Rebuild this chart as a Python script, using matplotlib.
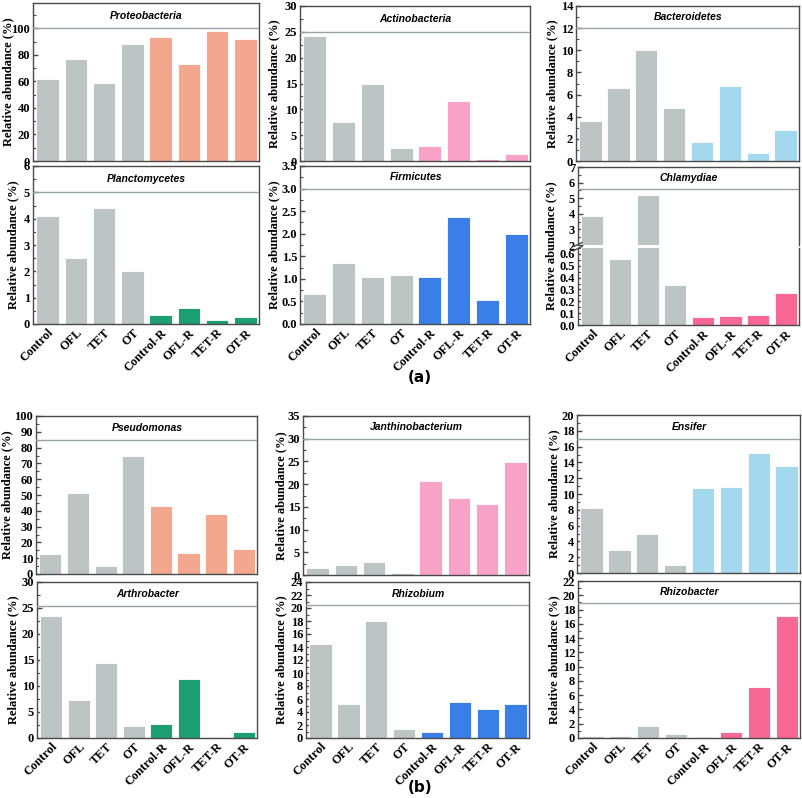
import matplotlib
matplotlib.use('Agg')
import matplotlib.pyplot as plt
from matplotlib.ticker import MultipleLocator, AutoMinorLocator

W, H = 803, 798
fig = plt.figure(figsize=(W / 100, H / 100), dpi=100)

categories = ['Control', 'OFL', 'TET', 'OT', 'Control-R', 'OFL-R', 'TET-R', 'OT-R']

# panel (a) - phyla
proteobacteria = [62.0, 76.7, 58.8, 87.8, 93.2, 73.4, 97.6, 92.2]
actinobacteria = [24.2, 7.6, 15.0, 2.6, 3.0, 11.6, 0.3, 1.3]
bacteroidetes = [3.65, 6.6, 10.05, 4.83, 1.68, 6.76, 0.72, 2.82]
planctomycetes = [4.1, 2.51, 4.41, 2.0, 0.34, 0.6, 0.14, 0.28]
firmicutes = [0.66, 1.35, 1.04, 1.08, 1.05, 2.36, 0.54, 2.0]
chlamydiae = [3.88, 0.56, 5.18, 0.34, 0.065, 0.075, 0.085, 0.27]

# panel (b) - genera
pseudomonas = [12.8, 51.3, 4.9, 74.8, 42.9, 13.4, 38.2, 15.8]
janthinobacterium = [1.6, 2.2, 2.8, 0.45, 20.8, 16.9, 15.7, 24.8]
ensifer = [8.27, 2.97, 4.93, 0.98, 10.7, 10.86, 15.24, 13.56]
arthrobacter = [23.5, 7.35, 14.4, 2.4, 2.75, 11.35, 0.26, 1.1]
rhizobium = [14.4, 5.3, 18.0, 1.4, 0.85, 5.5, 4.5, 5.2]
rhizobacter = [0.33, 0.33, 1.65, 0.6, 0.19, 0.88, 7.2, 17.1]

GRAY = '#BDC4C4'
SALMON = '#F4A78F'
PINK = '#F9A2C8'
LBLUE = '#A3D8EF'
GREEN = '#1E9E73'
BLUE = '#3A7FE8'
HPINK = '#F86894'

SERIF = 'Liberation Serif'
SANS = 'Liberation Sans'
SPINE = '#4a4a4a'
LINEC = '#9aa3a3'
FS = 9


def rect(l, t, r, b):
    return [l / W, 1 - b / H, (r - l) / W, (b - t) / H]


def ylabel_at(xc, yc):
    fig.text(xc / W, 1 - yc / H, 'Relative abundance (%)', rotation=90,
             ha='center', va='center', fontfamily=SERIF, fontweight='bold',
             fontsize=FS)


def draw_bars(ax, values, accent):
    colors = [GRAY] * 4 + [accent] * 4
    ax.bar(range(len(categories)), values, width=0.8, color=colors,
           edgecolor='white', linewidth=0.6, zorder=2)
    ax.set_xlim(-0.52, 7.48)


def style(ax, ylim, major, show_x):
    ax.set_ylim(*ylim)
    ax.yaxis.set_major_locator(MultipleLocator(major))
    ax.yaxis.set_minor_locator(AutoMinorLocator(2))
    for s in ax.spines.values():
        s.set_color(SPINE)
        s.set_linewidth(1.0)
    ax.tick_params(axis='y', which='major', direction='in', length=3.5,
                   width=1.0, color=SPINE, pad=2)
    ax.tick_params(axis='y', which='minor', direction='in', length=2,
                   width=0.8, color=SPINE)
    ax.tick_params(axis='x', length=0, pad=2)
    ax.set_xticks(range(len(categories)))
    for lab in ax.get_yticklabels():
        lab.set_fontfamily(SERIF)
        lab.set_fontweight('bold')
        lab.set_fontsize(FS)
    if show_x:
        ax.set_xticklabels(categories, rotation=45, ha='right',
                           rotation_mode='anchor', fontfamily=SERIF,
                           fontweight='bold', fontsize=FS)
    else:
        ax.set_xticklabels([])


def header(ax, line_y, title, top):
    ax.axhline(line_y, color=LINEC, linewidth=1.0, zorder=3)
    ax.text(3.5, (line_y + top) / 2, title, ha='center', va='center',
            fontfamily=SANS, fontstyle='italic', fontweight='bold',
            fontsize=7.5, zorder=4)


def panel(box, values, accent, ylim, major, line_y, title, show_x, ylab_x):
    ax = fig.add_axes(rect(*box))
    draw_bars(ax, values, accent)
    style(ax, ylim, major, show_x)
    header(ax, line_y, title, ylim[1])
    ylabel_at(ylab_x, (box[1] + box[3]) / 2)
    return ax


# ---------------- panel (a) ----------------
panel((33, 3, 259, 161), proteobacteria, SALMON, (0, 119), 20, 100, 'Proteobacteria', False, 8)
panel((300, 6, 530, 161), actinobacteria, PINK, (0, 30), 5, 25, 'Actinobacteria', False, 274)
panel((576, 6, 799, 161), bacteroidetes, LBLUE, (0, 14), 2, 12, 'Bacteroidetes', False, 552)
panel((33, 166, 259, 324), planctomycetes, GREEN, (0, 6), 1, 5, 'Planctomycetes', True, 13)
panel((300, 166, 530, 324), firmicutes, BLUE, (0, 3.5), 0.5, 3.0, 'Firmicutes', True, 274)

# Chlamydiae with broken axis
axu = fig.add_axes(rect(578, 167, 799, 245))
draw_bars(axu, chlamydiae, HPINK)
style(axu, (2, 7), 1, False)
header(axu, 5.6, 'Chlamydiae', 7)
axu.spines['bottom'].set_visible(False)
axl = fig.add_axes(rect(578, 248, 799, 325))
draw_bars(axl, chlamydiae, HPINK)
style(axl, (0, 0.65), 0.1, True)
axl.spines['top'].set_visible(False)
ylabel_at(551, 246)
# break marks on the left spine
for yy in (244.5, 248.5):
    fig.add_artist(plt.Line2D([574 / W, 582 / W],
                              [1 - (yy + 2.0) / H, 1 - (yy - 2.0) / H],
                              color=SPINE, linewidth=1.0))

fig.text(420 / W, 1 - 378 / H, '(a)', ha='center', va='center',
         fontfamily='DejaVu Sans', fontweight='bold', fontsize=11)

# ---------------- panel (b) ----------------
panel((36, 416, 257, 574), pseudomonas, SALMON, (0, 100), 10, 85, 'Pseudomonas', False, 7)
panel((303, 416, 529, 575), janthinobacterium, PINK, (0, 35), 5, 30, 'Janthinobacterium', False, 281)
panel((577, 415, 800, 573), ensifer, LBLUE, (0, 20), 2, 17, 'Ensifer', False, 554)
panel((37, 582, 257, 738), arthrobacter, GREEN, (0, 30), 5, 25.3, 'Arthrobacter', True, 13)
panel((306, 582, 529, 738), rhizobium, BLUE, (0, 24), 2, 20.4, 'Rhizobium', True, 281)
panel((578, 581, 800, 738), rhizobacter, HPINK, (0, 22), 2, 18.9, 'Rhizobacter', True, 554)

fig.text(420 / W, 1 - 788 / H, '(b)', ha='center', va='center',
         fontfamily='DejaVu Sans', fontweight='bold', fontsize=11)

fig.savefig('out.png', dpi=100)
